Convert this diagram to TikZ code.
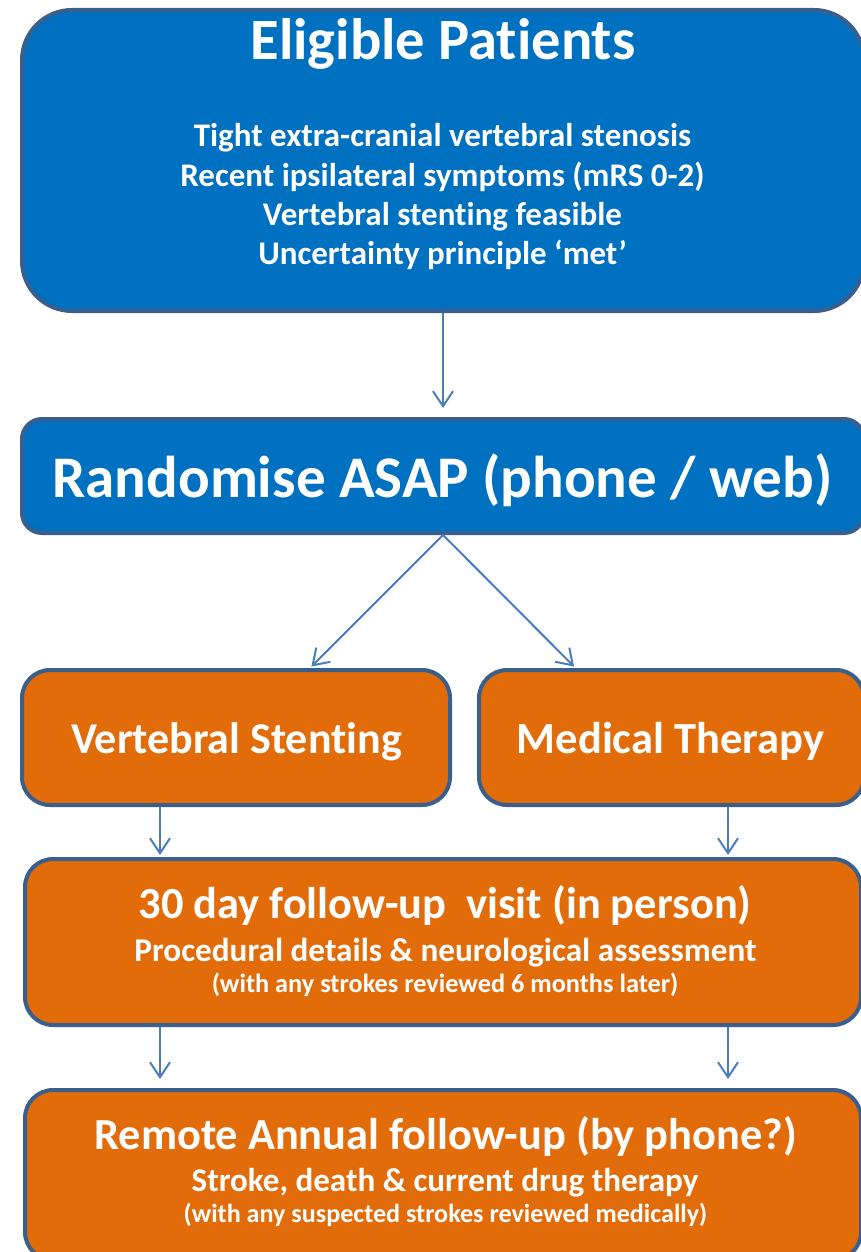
\documentclass[tikz,border=0pt]{standalone}
\usepackage{fontspec}
\setmainfont{Carlito}[RawFeature=-liga]
\usetikzlibrary{arrows.meta}
\definecolor{boxblue}{HTML}{0070C0}
\definecolor{boxorange}{HTML}{E36C0A}
\definecolor{edgeblue}{HTML}{3A5F8D}
\definecolor{arrowblue}{HTML}{4A7EBB}
\tikzset{
  box/.style={draw=edgeblue, line width=4pt, rectangle, inner sep=0pt},
  bluebox/.style={box, fill=boxblue},
  orangebox/.style={box, fill=boxorange, rounded corners=28pt},
  txt/.style={text=white, inner sep=0pt, anchor=base},
  arr/.style={draw=arrowblue, line width=2pt, -{Straight Barb[length=15pt,width=20pt,line width=2pt]}},
}
\newcommand{\fs}[1]{\fontsize{#1}{#1}\selectfont\bfseries}
\begin{document}
\begin{tikzpicture}[x=1pt,y={(0pt,-1pt)}]
\useasboundingbox (0,0) rectangle (860,1252);
% boxes
\node[bluebox, rounded corners=50pt, minimum width=842pt, minimum height=301pt] (elig) at (443,160.5) {};
\node[bluebox, rounded corners=20pt, minimum width=842pt, minimum height=114pt] (rand) at (443,476) {};
\node[orangebox, minimum width=428pt, minimum height=135pt] (stent) at (236,737.5) {};
\node[orangebox, minimum width=385pt, minimum height=135pt] (med) at (671.5,737.5) {};
\node[orangebox, minimum width=836pt, minimum height=166pt] (fu) at (443,942) {};
\node[orangebox, minimum width=836pt, minimum height=170pt] (remote) at (443,1175) {};
% texts
\node[txt, font=\fs{58.5}] (eligT) at (443,60) {Eligible Patients};
\node[txt, font=\fs{33}] (c1) at (442.5,147) {Tight extra-cranial vertebral stenosis};
\node[txt, font=\fs{33}] (c2) at (442.5,186) {Recent ipsilateral symptoms (mRS 0-2)};
\node[txt, font=\fs{33}] (c3) at (442.5,225) {Vertebral stenting feasible};
\node[txt, font=\fs{33}] (c4) at (442.5,264) {Uncertainty principle ‘met’};
\node[txt, font=\fs{59}] (randT) at (442.5,497) {Randomise ASAP (phone / web)};
\node[txt, font=\fs{44}] (stentT) at (236.5,753) {Vertebral Stenting};
\node[txt, font=\fs{44.5}] (medT) at (670.5,753) {Medical Therapy};
\node[txt, font=\fs{44.4}] (fuT) at (445,918) {30 day follow-up\ \ visit (in person)};
\node[txt, font=\fs{33.2}] (fu2) at (445.5,961) {Procedural details \& neurological assessment};
\node[txt, font=\fs{26.3}] (fu3) at (445,992) {(with any strokes reviewed 6 months later)};
\node[txt, font=\fs{44.4}] (remT) at (445.5,1149) {Remote Annual follow-up (by phone?)};
\node[txt, font=\fs{33.1}] (rem2) at (445,1191) {Stroke, death \& current drug therapy};
\node[txt, font=\fs{26.1}] (rem3) at (445.5,1222) {(with any suspected strokes reviewed medically)};
% connectors
\draw[arr, shorten >=9pt] (elig.south) -- (rand.north);
\draw[arr, shorten >=2pt] (rand.south) -- ([xshift=74pt]stent.north);
\draw[arr, shorten >=2pt] (rand.south) -- ([xshift=-96pt]med.north);
\draw[arr, shorten >=2pt] ([xshift=-76pt]stent.south) -- ([xshift=-283pt]fu.north);
\draw[arr, shorten >=2pt] ([xshift=56.5pt]med.south) -- ([xshift=285pt]fu.north);
\draw[arr, shorten >=9pt] ([xshift=-283pt]fu.south) -- ([xshift=-283pt]remote.north);
\draw[arr, shorten >=9pt] ([xshift=285pt]fu.south) -- ([xshift=285pt]remote.north);
\end{tikzpicture}
\end{document}
